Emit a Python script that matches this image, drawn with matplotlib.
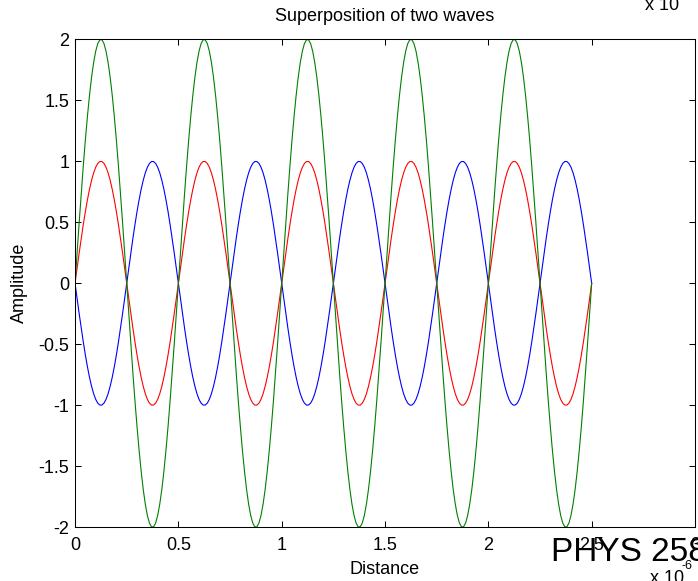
import numpy as np
import matplotlib
matplotlib.use("Agg")
import matplotlib.pyplot as plt
from matplotlib.ticker import FuncFormatter

plt.rcParams['font.family'] = ['Liberation Sans', 'DejaVu Sans']
plt.rcParams['axes.unicode_minus'] = False

# wave parameters
wavelength = 0.5e-6      # metres
x_end = 2.5e-6           # curves stop here
n_samples = 251
amplitudes = [-1.0, 1.0, 2.0]         # blue, red, green
colors = ['#0000ff', '#ff0000', '#008000']

x_ticks = [0, 0.5e-6, 1e-6, 1.5e-6, 2e-6, 2.5e-6, 3e-6]
y_ticks = [-2, -1.5, -1, -0.5, 0, 0.5, 1, 1.5, 2]

x = np.linspace(0, x_end, n_samples)

fig = plt.figure(figsize=(6.98, 5.81), dpi=100)
ax = fig.add_axes([0.1075, 0.0924, 0.8882, 0.84])

for amp, c in zip(amplitudes, colors):
    ax.plot(x, amp * np.sin(2 * np.pi * x / wavelength), color=c, lw=0.8)

ax.set_xlim(0, 3e-6)
ax.set_ylim(-2, 2)
ax.set_xticks(x_ticks)
ax.set_yticks(y_ticks)
ax.xaxis.set_major_formatter(FuncFormatter(lambda v, p: '%g' % round(v / 1e-6, 3)))
ax.yaxis.set_major_formatter(FuncFormatter(lambda v, p: '%g' % v))
ax.tick_params(direction='in', top=True, right=True, length=4, width=0.75,
               labelsize=13)
ax.tick_params(axis='x', pad=7)
ax.tick_params(axis='y', pad=4)
for s in ax.spines.values():
    s.set_linewidth(0.75)

ax.set_title('Superposition of two waves', fontsize=13, pad=13)
ax.set_xlabel('Distance', fontsize=13, labelpad=5)
ax.set_ylabel('Amplitude', fontsize=13, labelpad=8)

# MATLAB-style exponent labels
fig.text(650 / 698, 1 - 583 / 581, 'x 10', fontsize=13, ha='left', va='baseline')
fig.text(681 / 698, 1 - 569 / 581, '-6', fontsize=9, ha='left', va='baseline')
fig.text(645 / 698, 1 - 10 / 581, 'x 10', fontsize=13, ha='left', va='baseline')

fig.text(551 / 698, 1 - 561 / 581, 'PHYS 258', fontsize=24, ha='left', va='baseline')

fig.savefig('out.png', dpi=100)
